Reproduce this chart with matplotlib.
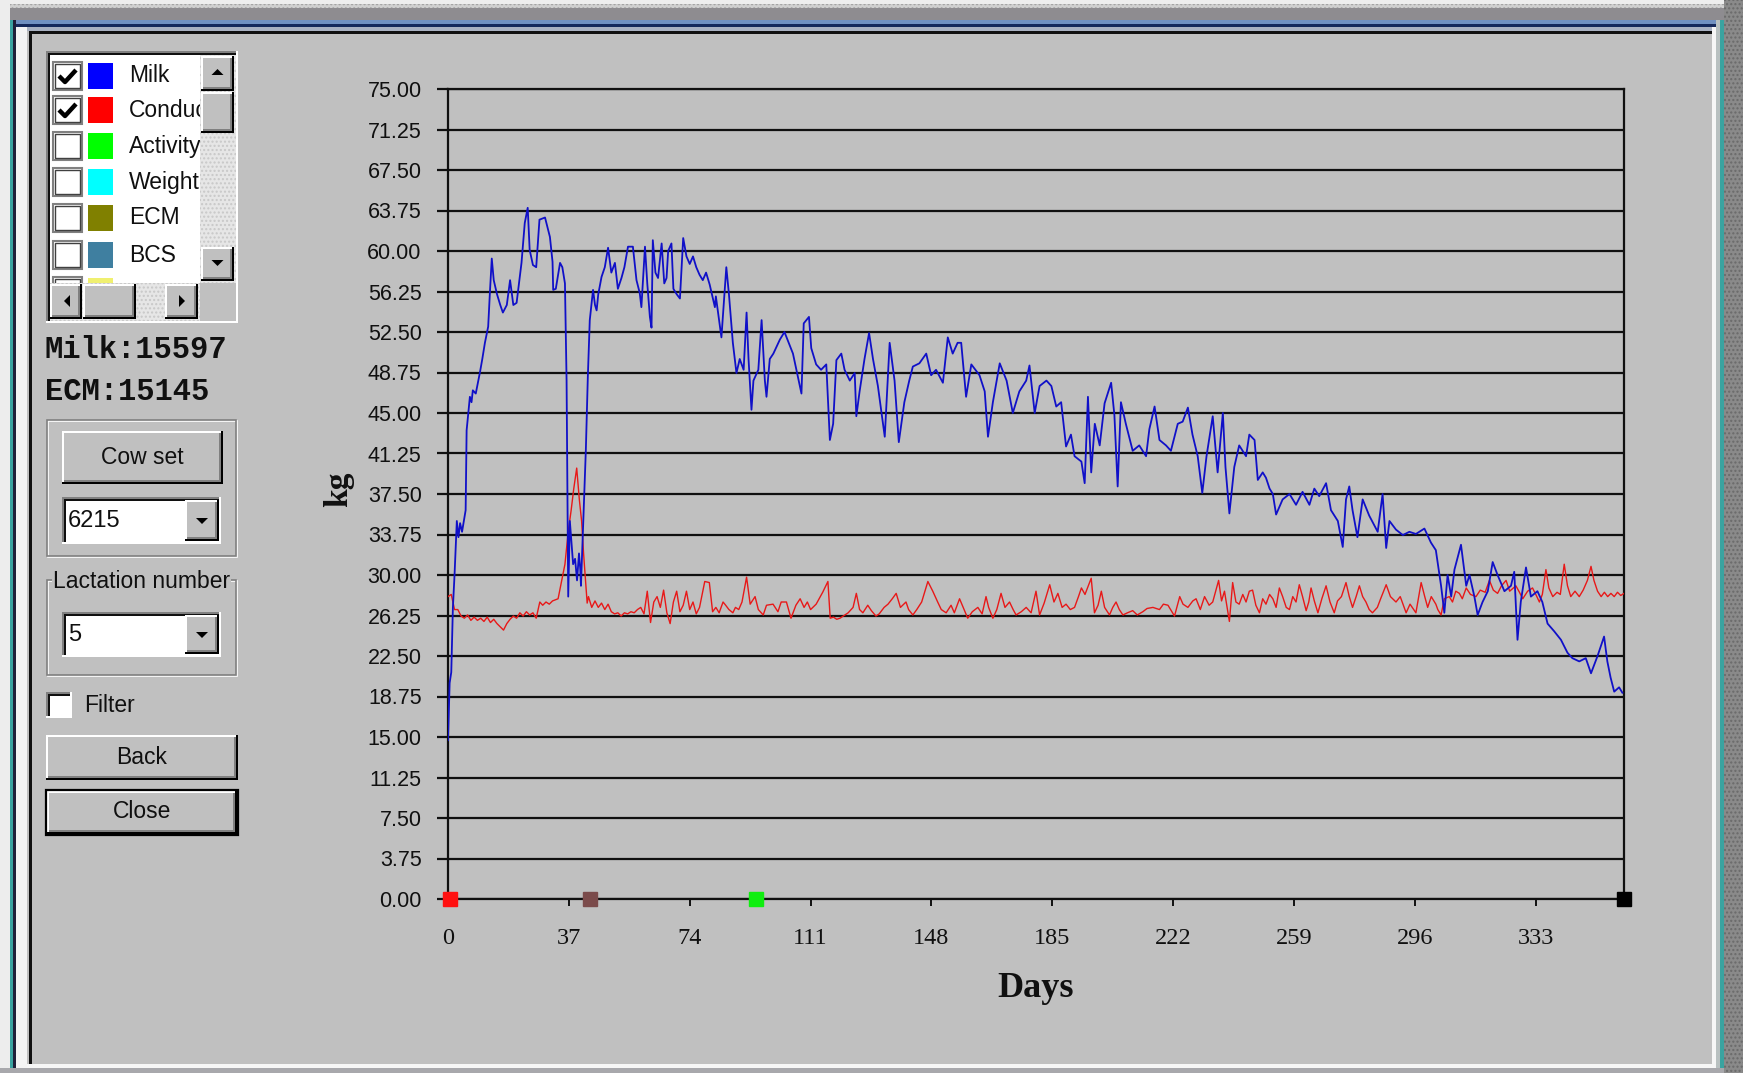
import numpy as np
import matplotlib
matplotlib.use('Agg')
import matplotlib.pyplot as plt
from matplotlib.patches import Rectangle, Polygon

# ---------------- data ----------------
milk_day = [0, 0.5, 1, 1.5, 2, 2.7, 3.2, 3.7, 4.3, 5.4, 5.7, 6.7, 7.2, 7.6, 8.5, 9.8, 10.5, 11.3, 12.3, 12.8,
            13.4, 14, 15, 16, 16.8, 18, 19, 20, 21, 22.5, 23.5, 24.4, 25, 26, 27, 28, 29.7, 31.2, 32, 32.2,
            33, 34.3, 35, 35.8, 36.3, 36.8, 37.3, 37.8, 38.3, 38.9, 39.5, 40.1, 40.5, 40.7, 41.4, 42.2, 42.8, 43.4, 44.4, 45,
            45.5, 46, 47, 48, 49, 50, 51.1, 52, 53.1, 54, 55.1, 56.6, 57.7, 58.7, 59.2, 60.3, 61, 61.8, 62.3, 62.7,
            63.5, 64.3, 65.4, 66.2, 66.9, 67.4, 68.4, 69, 70, 71, 72, 73, 74, 75, 76, 77, 78, 79, 80.1, 81.7,
            82, 83.7, 85.2, 86, 87.2, 88.3, 89.3, 90.5, 91.4, 92, 92.9, 93.5, 95, 96, 97, 97.5, 98.5, 99.6, 101.6, 103,
            105.6, 107, 108.2, 108.9, 110.5, 111.2, 112.7, 114.2, 115.8, 116.9, 117.9, 118.9, 120.4, 121.4, 123, 124.5, 125, 126, 127.5, 128.9,
            130.1, 131.6, 133.7, 135.2, 136.7, 138, 139.7, 141.2, 142.3, 144.3, 146.4, 147.9, 149.4, 151.5, 153, 154.5, 156, 157.1, 158.6, 160.2,
            162.7, 164.3, 165.3, 166.8, 168.9, 171, 172.9, 174.9, 177, 178, 179.6, 181.1, 183.2, 184.7, 186.2, 187.7, 189.2, 190.7, 191.8, 193.9,
            194.9, 195.9, 196.9, 198, 199.5, 201, 203, 204, 205, 206, 207.5, 209.6, 211.6, 213.7, 214.7, 216.3, 217.8, 219.8, 221.3, 223.4,
            224.9, 226.5, 227.9, 229.5, 230.9, 232.2, 234.1, 235.6, 237.2, 238, 239.2, 240.7, 242.2, 244.3, 245.3, 246.9, 247.9, 249.4, 250.4, 251.5,
            252.5, 253.5, 255.5, 257.6, 259.6, 261.6, 263.7, 265.2, 266.7, 268.8, 270.3, 272.4, 273.9, 274.9, 275.9, 276.9, 278.4, 280, 282, 284.6,
            286.1, 287.2, 288.2, 290.2, 292.3, 294.3, 296.3, 298.9, 300.9, 302.4, 304, 305, 306, 307.1, 308.1, 310.1, 311.7, 312.7, 314.2, 315.2,
            316.7, 318.3, 319.8, 321.3, 323.4, 325.4, 326.4, 327.4, 328.4, 330, 331.5, 333.5, 335, 336.6, 338.6, 340.7, 342.7, 344.2, 346.3, 348.3,
            349.9, 351.9, 353.9, 354.9, 355.9, 357, 358.5, 359.5]
milk_kg = [14.7, 20, 21, 27, 30, 35, 33.5, 34.8, 34, 36, 43.4, 46.5, 46, 47.1, 46.8, 48.8, 50, 51.5, 53, 56,
           59.3, 57.3, 56, 55, 54.3, 55, 57.3, 55, 55.2, 58.9, 62.6, 64, 60.1, 58.7, 58.5, 62.9, 63.1, 61.3, 59, 56.4,
           56.5, 58.9, 58.5, 57, 48, 28, 35, 33, 31, 31.5, 29.5, 32, 30.5, 29, 35, 41.6, 48.3, 53.6, 56.4, 55,
           54.5, 56, 57.6, 58.5, 60.3, 58, 58.9, 56.5, 57.5, 58.5, 60.4, 60.4, 57.3, 56.1, 54.8, 60.4, 57, 53.9, 52.9, 61,
           58, 57.5, 60.7, 57, 57.5, 60, 60.7, 56.5, 56, 55.6, 61.2, 59.5, 58.8, 59.5, 58.5, 57.8, 57.3, 58, 56.9, 54.8,
           55.8, 52, 58.5, 56, 51.5, 48.7, 50, 49, 54.3, 50, 45.3, 48, 49, 53.6, 48, 46.5, 50, 50.5, 51.8, 52.5,
           50.5, 48.5, 46.8, 53.3, 53.9, 51, 49.5, 49, 49.5, 42.5, 44, 49.9, 50.5, 49, 48, 48.7, 44.7, 47, 50, 52.4,
           50, 47.5, 42.8, 51.5, 48, 42.3, 46, 48, 49.3, 49.6, 50.5, 48.5, 49, 47.8, 52, 50.5, 51.5, 51.5, 46.5, 49.5,
           48.5, 47, 42.8, 46, 49.6, 48, 45, 47, 48, 49.4, 45, 47.5, 48, 47.5, 45.6, 46, 41.9, 43, 41, 40.5,
           38.5, 46.5, 39.5, 44, 42, 45.9, 47.8, 44.8, 38.2, 46, 44, 41.5, 42, 41, 43.5, 45.6, 42.5, 42, 41.5, 44,
           44.2, 45.5, 43, 41, 37.6, 41, 44.7, 39.5, 45, 40, 35.7, 40, 42, 41, 43, 42.5, 38.8, 39.5, 39, 38,
           37.5, 35.6, 37, 37.5, 36.5, 37.7, 36.5, 38, 37.3, 38.5, 36, 35, 32.6, 37, 38.2, 36, 33.5, 37, 35.5, 34,
           37.5, 32.5, 35, 34.2, 33.7, 34, 33.8, 34.3, 33, 32.3, 29, 26.5, 30, 28, 30.5, 32.8, 29, 30, 28, 26.3,
           27.5, 28.5, 31.2, 30, 28.5, 29, 30.3, 24, 27.5, 30.7, 28, 28.5, 27.5, 25.5, 24.8, 24, 22.8, 22.3, 22, 22.3,
           20.9, 22.5, 24.3, 22, 20.5, 19.2, 19.6, 19.1]

cond_day = [0, 1, 2, 3, 4, 5, 6, 7, 8, 9, 10, 11, 12, 13, 14, 15, 16, 17, 18, 19,
            20, 21, 22, 23, 24, 25, 26, 27, 28.1, 29, 30, 31, 32, 33.7, 34.5, 35.8, 36.8, 37.7, 38.5, 39.4,
            40.2, 40.9, 41.5, 42.6, 43, 44, 45, 46, 47, 48, 49, 50, 51, 52, 53, 54, 55, 56, 57, 58,
            59, 60, 61, 62, 63, 64, 65, 66, 67, 68, 69, 70, 71, 72, 73, 74, 75, 76, 77, 78.6,
            80, 81, 82, 83, 84.2, 85, 86, 87.2, 88, 89, 90, 91.4, 92.5, 94, 95, 96.5, 97.5, 99.5, 101, 102,
            103.6, 105, 106.5, 107.8, 109, 110, 111, 112.7, 114.7, 116.3, 117, 118, 119, 120, 121, 122.5, 124, 125, 126, 127,
            128.5, 129.6, 131, 132, 133.5, 134.7, 136, 137.2, 138.5, 140.2, 141, 142.3, 143.5, 145, 146.9, 148.4, 149.9, 151, 152.5, 154,
            155, 156.6, 158, 159.1, 160.5, 162.2, 163.5, 164.7, 165.5, 166.8, 168, 169.3, 170.5, 171.9, 173, 173.9, 175.5, 177, 178.5, 180,
            181.1, 182.5, 184.2, 185.5, 186.7, 188, 189.2, 190.5, 191.8, 193, 193.9, 195, 196.9, 197.9, 199, 200, 201, 202.5, 203.5, 204.5,
            205.5, 206.6, 208, 209.6, 211, 212.7, 214, 215.8, 217.8, 219, 220.4, 222.4, 224, 225, 226.5, 228, 229, 230.3, 231.6, 233,
            234.1, 235.9, 236.8, 237.7, 239.2, 240.2, 241.2, 242.2, 243.3, 244.3, 245.3, 246.3, 247.3, 248.4, 249.4, 250.4, 251.5, 252.5, 253.5, 254.5,
            255.5, 256.6, 257.6, 258.6, 259.6, 260.6, 261.6, 262.7, 263.5, 264.2, 265.2, 266.3, 267.5, 268.8, 270, 271.3, 272.3, 273.5, 274.9, 275.9,
            276.9, 278, 279, 280, 281, 282, 283, 284.5, 285.5, 287.2, 288.5, 290.2, 291.5, 293.3, 294.5, 296.3, 297.9, 299, 299.9, 301,
            302.4, 303, 304, 305, 306.5, 307.5, 308.5, 309.6, 310.5, 311.7, 313, 314.7, 316, 317.5, 318.8, 320, 321.3, 322.5, 323.9, 325,
            326.9, 328, 329, 330.5, 332, 333, 334.1, 335, 336.1, 337, 338.2, 339.5, 340.5, 341.7, 342.7, 343.7, 345, 346.3, 347.5, 348.8,
            349.9, 350.8, 351.9, 353, 354, 355, 356, 357, 358, 359, 360]
cond_val = [28, 28.2, 26.8, 26.8, 26.2, 26, 26.3, 25.8, 26.1, 25.8, 26, 25.7, 26.1, 25.6, 25.9, 25.5, 25.2, 24.9, 25.5, 25.9,
            26.2, 26, 26.5, 26.2, 26.6, 26.3, 26.5, 26, 27.5, 27.2, 27.5, 27.3, 27.6, 27.8, 29, 31, 34, 36, 38, 39.9,
            37, 35, 32, 27.4, 28, 27, 27.6, 27, 27.4, 26.8, 27.3, 26.6, 26.4, 26.5, 26.2, 26.5, 26.4, 26.6, 26.5, 26.8,
            27, 26.4, 28.5, 25.6, 27.5, 28, 27, 28.6, 26.5, 25.5, 27.5, 28.5, 26.6, 27.2, 28.5, 26.8, 27.5, 26.4, 27, 29.4,
            29.3, 26.6, 27, 26.5, 27.5, 27.2, 26.8, 26.5, 27, 26.8, 27.5, 29.8, 27.3, 28, 26.8, 26.3, 27.2, 27.3, 26.6, 27.5,
            27.5, 26, 27.2, 27.8, 27, 27.5, 26.8, 27.3, 28.4, 29.4, 26, 26.1, 25.9, 26, 26.2, 26.5, 27, 28.3, 26.8, 26.5,
            27.2, 26.7, 26.2, 26.4, 27, 27.3, 27.8, 28.3, 27, 27.5, 26.8, 26.3, 26.8, 27.5, 29.4, 28.5, 27.5, 26.8, 26.5, 27.2,
            26.5, 27.8, 26.8, 26, 26.6, 27, 26.4, 28, 27, 26, 26.8, 28.3, 27, 27.5, 26.8, 26.3, 26.6, 27, 26.5, 28.5,
            26.3, 27.4, 29.1, 27.5, 28.3, 27, 27.3, 26.8, 27, 28, 28.8, 28.2, 29.7, 26.5, 27.2, 28.5, 27, 26.3, 27, 27.5,
            26.8, 26.3, 26.5, 26.7, 26.3, 26.6, 26.9, 27, 26.8, 27.3, 27.2, 26.2, 28, 27.3, 27, 27.6, 27.8, 26.8, 28, 27.2,
            27.5, 29.5, 27.6, 28.5, 25.7, 29.3, 27.5, 27.3, 28.2, 27.5, 28.5, 28.6, 27.2, 26.5, 27.8, 27.3, 28.2, 27.8, 27, 28.8,
            28, 27, 26.8, 28, 27.5, 29.1, 28, 26.7, 27.5, 28.8, 27.6, 26.5, 27.8, 29, 27.5, 26.5, 27.6, 28, 29.3, 28,
            27, 28, 29, 28, 27.5, 26.8, 26.5, 27, 27.8, 29.1, 28, 27.5, 28, 26.5, 27.3, 26.5, 29.3, 28, 27, 28,
            27.3, 26.8, 26.3, 27.8, 28, 27.5, 28.5, 28.3, 27.8, 28.8, 28.2, 28, 28.6, 28.4, 29.5, 28.6, 28.3, 29, 29.5, 28.5,
            29, 28.4, 27.8, 28.5, 28.8, 28.2, 27.5, 28.2, 30.5, 28.8, 28, 28.4, 28.2, 31, 29, 28, 28.5, 28, 28.6, 29.5,
            30.8, 29.5, 28.5, 28, 28.4, 28, 28.3, 28, 28.4, 28.1, 28.3]

event_day = [0.5, 43.4, 94.2, 360]
event_color = ['#FF1010', '#7B4B4B', '#10EE10', '#000000']

x_ticks = [0, 37, 74, 111, 148, 185, 222, 259, 296, 333]
y_ticks = [0.00, 3.75, 7.50, 11.25, 15.00, 18.75, 22.50, 26.25, 30.00, 33.75, 37.50,
           41.25, 45.00, 48.75, 52.50, 56.25, 60.00, 63.75, 67.50, 71.25, 75.00]

panel_items = ['Milk', 'Conductivity', 'Activity', 'Weight', 'ECM', 'BCS', '']
panel_colors = ['#0000FF', '#FF0000', '#00FF00', '#00FFFF', '#808000', '#3F7FA0', '#F0F070']
panel_checked = [True, True, False, False, False, False, False]
milk_total = 'Milk:15597'
ecm_total = 'ECM:15145'
cow_id = '6215'
lactation = '5'

# ---------------- figure ----------------
W, H = 1743, 1073
GRAY = '#C0C0C0'
SANS = ['Liberation Sans', 'DejaVu Sans']
SERIF = ['Liberation Serif', 'DejaVu Serif']

fig = plt.figure(figsize=(W / 100, H / 100), dpi=100, facecolor=GRAY)
ui = fig.add_axes([0, 0, 1, 1])
ui.set_xlim(0, W)
ui.set_ylim(H, 0)
ui.axis('off')


def rect(x0, y0, x1, y1, fc, z=1, hatch=None, hc=None):
    ui.add_patch(Rectangle((x0, y0), x1 - x0, y1 - y0, facecolor=fc,
                           edgecolor=hc if hc else 'none', lw=0, hatch=hatch, zorder=z))


def raised(x0, y0, x1, y1, z=2, default=False):
    rect(x0, y0, x1, y1, GRAY, z)
    rect(x0, y0, x1, y0 + 2, '#FFFFFF', z)
    rect(x0, y0, x0 + 2, y1, '#FFFFFF', z)
    rect(x0 + 2, y1 - 4, x1 - 2, y1 - 2, '#808080', z)
    rect(x1 - 4, y0 + 2, x1 - 2, y1 - 2, '#808080', z)
    rect(x0, y1 - 2, x1, y1, '#000000', z)
    rect(x1 - 2, y0, x1, y1, '#000000', z)
    if default:
        ui.add_patch(Rectangle((x0 - 1, y0 - 1), x1 - x0 + 2, y1 - y0 + 2, facecolor='none',
                               edgecolor='black', lw=1.6, zorder=z + 0.1))


def sunken(x0, y0, x1, y1, fc='#FFFFFF', z=2):
    rect(x0, y0, x1, y1, fc, z)
    rect(x0, y0, x1, y0 + 2, '#808080', z)
    rect(x0, y0, x0 + 2, y1, '#808080', z)
    rect(x0 + 2, y0 + 2, x1 - 2, y0 + 4, '#101010', z)
    rect(x0 + 2, y0 + 2, x0 + 4, y1 - 2, '#101010', z)
    rect(x0, y1 - 2, x1, y1, '#FFFFFF', z)
    rect(x1 - 2, y0, x1, y1, '#FFFFFF', z)


def tri(cx, cy, d, s=6, z=3):
    if d == 'up':
        pts = [(cx - s, cy + s / 2), (cx + s, cy + s / 2), (cx, cy - s / 2)]
    elif d == 'down':
        pts = [(cx - s, cy - s / 2), (cx + s, cy - s / 2), (cx, cy + s / 2)]
    elif d == 'left':
        pts = [(cx + s / 2, cy - s), (cx + s / 2, cy + s), (cx - s / 2, cy)]
    else:
        pts = [(cx - s / 2, cy - s), (cx - s / 2, cy + s), (cx + s / 2, cy)]
    ui.add_patch(Polygon(pts, closed=True, facecolor='black', edgecolor='none', zorder=z))


def etched(x0, y0, x1, y1, z=1.5):
    ui.add_patch(Rectangle((x0 + 1, y0 + 1), x1 - x0, y1 - y0, facecolor='none', edgecolor='#FFFFFF', lw=1.2, zorder=z))
    ui.add_patch(Rectangle((x0, y0), x1 - x0, y1 - y0, facecolor='none', edgecolor='#808080', lw=1.2, zorder=z))


# window frame
rect(0, 0, W, 4, '#EEEEEE')
rect(0, 4, W, 8, '#D0D0D0', hatch='....', hc='#A0A0A0')
rect(0, 8, W, 20, '#8E8C90')
rect(0, 20, 1716, 24, '#7090C0')
rect(0, 24, 1716, 27, '#14285A')
rect(0, 27, 1716, 31, '#A8B0C0')
rect(29, 31, 1713, 34, '#101010')
rect(0, 0, 10, H, '#EDEDED')
rect(10, 20, 13, H, '#3AA3A0')
rect(13, 20, 16, H, '#20203A')
rect(16, 27, 27, 1068, '#F4F4F4')
rect(29, 31, 32, 1064, '#101010')
rect(1712, 27, 1716, 1068, '#F6F6F6')
rect(1716, 20, 1720, H, '#B8C0C0')
rect(1720, 20, 1724, H, '#3AA3A0')
rect(1724, 0, W, H, '#8A8A8A', hatch='....', hc='#6A6A6A')
rect(27, 1064, 1716, 1068, '#F6F6F6')
rect(0, 1068, 1724, H, '#A8A8AC')

# list box
rect(46, 51, 238, 323, '#FFFFFF', 1.5)
rect(46, 51, 238, 53, '#808080', 1.6)
rect(46, 51, 48, 323, '#808080', 1.6)
rect(48, 53, 236, 55, '#101010', 1.6)
rect(48, 53, 50, 321, '#101010', 1.6)
rect(46, 321, 238, 323, '#FFFFFF', 1.6)
rect(236, 51, 238, 323, '#FFFFFF', 1.6)

lb = fig.add_axes([50 / W, 1 - 283 / H, 150 / W, 228 / H])
lb.set_xlim(50, 200)
lb.set_ylim(283, 55)
lb.axis('off')
row_y = [76, 110, 146, 182, 218, 255, 291]
for yc, name, col, chk in zip(row_y, panel_items, panel_colors, panel_checked):
    lb.add_patch(Rectangle((53, yc - 14), 29, 28, facecolor='white', edgecolor='#808080', lw=1.5, clip_on=True))
    lb.add_patch(Rectangle((55, yc - 12), 25, 24, facecolor='none', edgecolor='#404040', lw=1.0, clip_on=True))
    lb.add_patch(Rectangle((88, yc - 13), 25, 26, facecolor=col, edgecolor='none', clip_on=True))
    if chk:
        lb.plot([59, 65, 76], [yc, yc + 6, yc - 6], color='black', lw=3.2, solid_capstyle='butt', clip_on=True)
    if name:
        lb.text(129, yc, name, fontsize=16.5, family=SANS, va='center', ha='left', color='#101010', clip_on=True)

# vertical scrollbar
rect(200, 55, 236, 283, '#E6E6E6', 2, hatch='....', hc='#C8C8C8')
raised(201, 56, 234, 91, 3)
tri(217.5, 72, 'up', 6, 4)
raised(201, 92, 234, 133, 3)
raised(201, 247, 234, 281, 3)
tri(217.5, 263, 'down', 6, 4)
# horizontal scrollbar
rect(50, 283, 200, 321, '#E6E6E6', 2, hatch='....', hc='#C8C8C8')
raised(50, 284, 82, 319, 3)
tri(67, 301, 'left', 6, 4)
raised(83, 284, 136, 319, 3)
raised(165, 284, 198, 319, 3)
tri(182, 301, 'right', 6, 4)
rect(200, 283, 236, 321, GRAY, 2)

# totals
ui.text(45, 350, milk_total, fontsize=22, family=['Liberation Mono', 'DejaVu Sans Mono'], weight='bold',
        va='center', ha='left', color='#101010')
ui.text(45, 392, ecm_total, fontsize=22, family=['Liberation Mono', 'DejaVu Sans Mono'], weight='bold',
        va='center', ha='left', color='#101010')

# cow set group
etched(47, 420, 236, 556)
raised(62, 431, 223, 484, 3)
ui.text(142, 457, 'Cow set', fontsize=16.5, family=SANS, ha='center', va='center', color='#101010', zorder=5)
sunken(62, 497, 221, 544)
raised(185, 500, 219, 541, 3)
tri(202, 521, 'down', 6, 4)
ui.text(68, 521, cow_id, fontsize=17, family=SANS, ha='left', va='center', color='#101010', zorder=5)

# lactation group
etched(47, 580, 236, 675)
ui.text(53, 582, 'Lactation number', fontsize=16.5, family=SANS, ha='left', va='center', color='#101010', zorder=5,
        bbox=dict(facecolor=GRAY, edgecolor='none', pad=0.5))
sunken(62, 612, 221, 657)
raised(185, 615, 219, 654, 3)
tri(202, 635, 'down', 6, 4)
ui.text(68, 635, lactation, fontsize=17, family=SANS, ha='left', va='center', color='#101010', zorder=5)

# filter checkbox
sunken(46, 692, 72, 718)
ui.text(84, 706, 'Filter', fontsize=16.5, family=SANS, ha='left', va='center', color='#101010')

# buttons
raised(46, 735, 238, 780, 3)
ui.text(142, 758, 'Back', fontsize=16.5, family=SANS, ha='center', va='center', color='#101010', zorder=5)
raised(47, 791, 237, 834, 3, default=True)
ui.text(142, 812, 'Close', fontsize=16.5, family=SANS, ha='center', va='center', color='#101010', zorder=5)

# ---------------- chart ----------------
ax = fig.add_axes([448 / W, 1 - 899 / H, 1176 / W, 810 / H])
ax.patch.set_alpha(0)
ax.set_xlim(0, 360)
ax.set_ylim(0, 75)

ax.plot(cond_day, cond_val, color='#E81818', lw=1.0, zorder=3)
ax.plot(milk_day, milk_kg, color='#1010C8', lw=1.3, zorder=4)
for d, c in zip(event_day, event_color):
    ax.plot([d], [0], marker='s', ms=10, color=c, mec=c, clip_on=False, zorder=6, ls='none')

ax.set_yticks(y_ticks)
ax.set_yticklabels([f'{v:.2f}' for v in y_ticks])
ax.set_xticks(x_ticks)
ax.set_xticklabels([str(v) for v in x_ticks])
ax.yaxis.grid(True, color='#101010', lw=1.6)
ax.set_axisbelow(True)
ax.tick_params(axis='y', length=8, width=1.6, pad=11, labelsize=15.5, colors='#101010', direction='out')
ax.tick_params(axis='x', length=5, width=1.4, pad=16, labelsize=17.5, colors='#101010', direction='out')
for lab in ax.get_yticklabels():
    lab.set_family(SANS)
for lab in ax.get_xticklabels():
    lab.set_family(SERIF)
for sp in ax.spines.values():
    sp.set_color('#101010')
    sp.set_linewidth(1.6)

ax.set_xlabel('Days', fontsize=26, family=SERIF, weight='bold', color='#101010')
ax.xaxis.set_label_coords(0.5, -0.111)
ax.xaxis.label.set_va('center')
ax.set_ylabel('kg', fontsize=24, family=SERIF, weight='bold', color='#101010')
ax.yaxis.set_label_coords(-0.093, 0.506)
ax.yaxis.label.set_va('center')

fig.savefig('out.png', dpi=100, facecolor=GRAY)
